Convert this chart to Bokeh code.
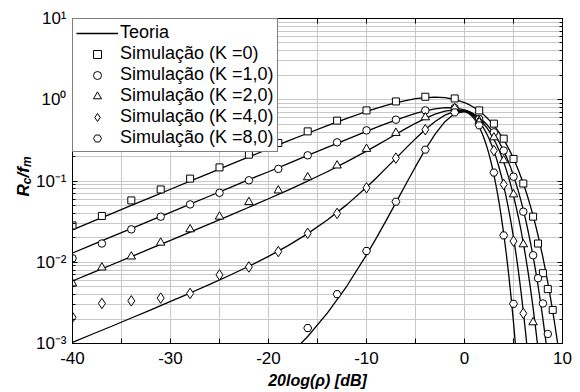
import numpy as np
from bokeh.plotting import figure
from bokeh.layouts import row
from bokeh.models import (LinearAxis, LogAxis, Legend, LegendItem,
                          FixedTicker, Range1d, CustomJSTickFormatter)
from bokeh.core.properties import value
from bokeh.embed import file_html
from bokeh.resources import INLINE

nan = float("nan")

# ---------------- data ----------------
# theory curves, sampled in dB (values read from the chart; nan = below the plotted range)
x_theory = [-40, -38, -36, -34, -32, -30, -28, -26, -24, -22, -20, -18, -16, -14, -12,
            -10, -9, -8, -7, -6, -5, -4, -3, -2, -1,
            0, 0.25, 0.5, 0.75, 1, 1.25, 1.5, 1.75, 2, 2.25, 2.5, 2.75, 3, 3.25, 3.5, 3.75,
            4, 4.25, 4.5, 4.75, 5, 5.25, 5.5, 5.75, 6, 6.25, 6.5, 6.75, 7, 7.25, 7.5, 7.75,
            8, 8.25, 8.5, 8.75, 9, 9.25, 9.5, 9.75, 10]

theory_k0 = [0.0251, 0.0316, 0.0397, 0.05, 0.0629, 0.0792, 0.0996, 0.125, 0.158, 0.198, 0.248,
             0.311, 0.387, 0.481, 0.591,
             0.717, 0.784, 0.852, 0.917, 0.977, 1.03, 1.06, 1.08, 1.06, 1.01,
             0.922, 0.894, 0.865, 0.833, 0.799, 0.763, 0.725, 0.687, 0.647, 0.606, 0.565, 0.523,
             0.481, 0.44, 0.4, 0.36, 0.322, 0.286, 0.251, 0.219, 0.189, 0.161, 0.136, 0.113,
             0.0934, 0.0759, 0.0608, 0.0481, 0.0374, 0.0286, 0.0215, 0.0158, 0.0115, 0.00811,
             0.00562, 0.0038, 0.00251, 0.00161, 0.00101, 0.000612, 0.00036]
theory_k1 = [0.013, 0.0164, 0.0207, 0.026, 0.0328, 0.0412, 0.0519, 0.0654, 0.0823, 0.104, 0.13,
             0.164, 0.207, 0.26, 0.326,
             0.409, 0.456, 0.508, 0.563, 0.621, 0.678, 0.731, 0.774, 0.798, 0.793,
             0.75, 0.733, 0.713, 0.689, 0.663, 0.635, 0.604, 0.571, 0.536, 0.499, 0.461, 0.422,
             0.383, 0.345, 0.306, 0.269, 0.234, 0.201, 0.17, 0.142, 0.116, 0.0938, 0.0744, 0.0578,
             0.0441, 0.0329, 0.0239, 0.017, 0.0118, 0.00794, 0.00519, 0.00329, 0.00201, 0.00119,
             0.000676, 0.000369, 0.000193, nan, nan, nan, nan]
theory_k2 = [0.00588, 0.0074, 0.00932, 0.0117, 0.0148, 0.0186, 0.0235, 0.0297, 0.0375, 0.0475,
             0.0605, 0.0774, 0.0999, 0.13, 0.173,
             0.233, 0.273, 0.32, 0.376, 0.441, 0.513, 0.59, 0.664, 0.724, 0.751,
             0.728, 0.713, 0.693, 0.67, 0.643, 0.611, 0.577, 0.539, 0.499, 0.457, 0.414, 0.37,
             0.327, 0.284, 0.244, 0.206, 0.171, 0.139, 0.111, 0.0865, 0.0661, 0.0492, 0.0358,
             0.0253, 0.0173, 0.0115, 0.00741, 0.0046, 0.00274, 0.00157, 0.000863, 0.000452,
             0.000226, 0.000107, nan, nan, nan, nan, nan, nan, nan]
theory_k4 = [0.00103, 0.0013, 0.00163, 0.00206, 0.0026, 0.0033, 0.00418, 0.00534, 0.00687,
             0.00893, 0.0118, 0.016, 0.0225, 0.0331, 0.0512,
             0.0837, 0.109, 0.144, 0.19, 0.252, 0.332, 0.43, 0.54, 0.646, 0.718,
             0.718, 0.703, 0.681, 0.653, 0.619, 0.58, 0.536, 0.487, 0.437, 0.385, 0.333, 0.282,
             0.235, 0.191, 0.151, 0.117, 0.0876, 0.0638, 0.0451, 0.0308, 0.0202, 0.0128, 0.00776,
             0.0045, 0.00249, 0.00131, 0.000649, 0.000304, 0.000134, nan, nan, nan, nan, nan,
             nan, nan, nan, nan, nan, nan, nan]
theory_k8 = [nan, nan, nan, nan, nan, nan, 0.000111, 0.000147, 0.000201, 0.000286, 0.000429,
             0.000691, 0.00122, 0.00236, 0.0051,
             0.0123, 0.0198, 0.0325, 0.0541, 0.0905, 0.15, 0.244, 0.377, 0.537, 0.677,
             0.713, 0.696, 0.668, 0.63, 0.582, 0.526, 0.464, 0.399, 0.334, 0.272, 0.214, 0.163,
             0.119, 0.0842, 0.0569, 0.0367, 0.0225, 0.0131, 0.00724, 0.00375, 0.00182, 0.000827,
             0.000348, 0.000135, nan, nan, nan, nan, nan, nan, nan, nan, nan, nan, nan, nan,
             nan, nan, nan, nan, nan]

# simulation points
sim_x_k0 = [-40, -37, -34, -31, -28, -25, -22, -19, -16, -13, -10, -7, -4, -1,
            1.5, 3, 4, 5, 6, 7, 7.5, 8, 8.5, 9]
sim_y_k0 = [0.0284, 0.0371, 0.0577, 0.0787, 0.107, 0.147, 0.211, 0.294, 0.408, 0.553, 0.739,
            0.953, 1.089, 1.037, 0.739, 0.508, 0.332, 0.187, 0.0931, 0.0364, 0.0170, 0.00733,
            0.00467, 0.00259]
sim_x_k1 = [-40, -37, -34, -31, -28, -25, -22, -19, -16, -13, -10, -7, -4, -1,
            1.5, 3, 4, 5, 6, 7, 7.5, 8, 8.5]
sim_y_k1 = [0.0112, 0.0170, 0.0254, 0.0364, 0.0515, 0.0716, 0.102, 0.141, 0.207, 0.299, 0.420,
            0.568, 0.739, 0.791, 0.580, 0.397, 0.237, 0.113, 0.0419, 0.0122, 0.00637, 0.00311,
            0.00131]
sim_x_k2 = [-40, -37, -34, -31, -28, -25, -22, -19, -16, -13, -10, -7, -4, -1,
            1.5, 3, 4, 5, 6, 7]
sim_y_k2 = [0.00548, 0.00861, 0.01175, 0.0174, 0.0254, 0.0364, 0.0549, 0.0764, 0.111, 0.155,
            0.248, 0.390, 0.607, 0.78, 0.55, 0.344, 0.180, 0.0683, 0.0166, 0.00182]
sim_x_k4 = [-40, -37, -34, -31, -28, -25, -22, -19, -16, -13, -10, -7, -4, -1,
            1.5, 3, 4, 5, 6]
sim_y_k4 = [0.00210, 0.00311, 0.00335, 0.00362, 0.00413, 0.00699, 0.00875, 0.01353, 0.0227,
            0.0399, 0.0824, 0.191, 0.428, 0.78, 0.52, 0.237, 0.0906, 0.0182, 0.00235]
sim_x_k8 = [-16, -13, -10, -7, -4, -1, 1.5, 3, 4, 5]
sim_y_k8 = [0.00155, 0.00405, 0.01377, 0.0556, 0.243, 0.699, 0.484, 0.127, 0.0214, 0.00308]

legend_labels = ["Teoria", "Simulação (K =0)", "Simulação (K =1,0)", "Simulação (K =2,0)",
                 "Simulação (K =4,0)", "Simulação (K =8,0)"]
x_ticks = [-40, -30, -20, -10, 0, 10]
x_tick_labels = ["-40", "-30", "-20", "-10", "0", "10"]
x_minor = [-35, -25, -15, -5, 5]
y_exponents = [1, 0, -1, -2, -3]
y_tick_labels = ["10¹", "10⁰", "10⁻¹", "10⁻²", "10⁻³"]
x_title = "20log(ρ) [dB]"

FONT = "Liberation Sans"
GRID = "#c8c8c8"
TOP, BOTTOM = 18, 49          # frame margins in px
STRIP = 32                    # width of the strip holding the y title

# ---------------- main figure ----------------
p = figure(width=580 - STRIP, height=392, x_range=Range1d(-40, 10), y_range=Range1d(1e-3, 10),
           y_axis_type="log", output_backend="svg", toolbar_location=None,
           min_border_left=70 - STRIP, min_border_right=18,
           min_border_top=TOP, min_border_bottom=BOTTOM)
p.background_fill_color = "white"
p.border_fill_color = "white"
p.outline_line_color = "black"
p.outline_line_width = 1

y_major = [10.0 ** e for e in y_exponents]
y_minor = [m * 10.0 ** e for e in [-3, -2, -1, 0] for m in range(2, 10)]
xt = FixedTicker(ticks=x_ticks, minor_ticks=x_minor)
yt = FixedTicker(ticks=y_major, minor_ticks=y_minor)
blank = CustomJSTickFormatter(code="return ''")

def style_axis(ax, show_labels):
    ax.axis_line_color = "black"
    ax.major_tick_in = 5
    ax.major_tick_out = 0
    ax.minor_tick_in = 3
    ax.minor_tick_out = 0
    ax.major_tick_line_color = "black"
    ax.minor_tick_line_color = "black"
    if not show_labels:
        ax.formatter = blank
        ax.major_label_standoff = 0

xa = p.xaxis[0]
xa.ticker = xt
style_axis(xa, True)
xa.minor_tick_in = 5
xa.major_label_overrides = dict(zip(x_ticks, x_tick_labels))
xa.major_label_text_font = FONT
xa.major_label_text_font_size = "17px"
xa.major_label_text_color = "black"
xa.major_label_standoff = 8
xa.axis_label = x_title
xa.axis_label_text_font = FONT
xa.axis_label_text_font_size = "16px"
xa.axis_label_text_font_style = "bold italic"
xa.axis_label_text_color = "black"
xa.axis_label_standoff = 5

ya = p.yaxis[0]
ya.ticker = yt
style_axis(ya, True)
ya.major_label_overrides = dict(zip(y_major, y_tick_labels))
ya.major_label_text_font = FONT
ya.major_label_text_font_size = "17px"
ya.major_label_text_color = "black"
ya.major_label_standoff = 6

top = LinearAxis(ticker=xt)
style_axis(top, False)
top.minor_tick_in = 5
p.add_layout(top, "above")
right = LogAxis(ticker=yt)
style_axis(right, False)
p.add_layout(right, "right")

p.xgrid.grid_line_color = GRID
p.xgrid.minor_grid_line_color = GRID
p.ygrid.grid_line_color = GRID
p.ygrid.minor_grid_line_color = GRID

# theory lines
line_rs = []
for ys in [theory_k0, theory_k1, theory_k2, theory_k4, theory_k8]:
    line_rs.append(p.line(x_theory, ys, line_color="black", line_width=1.3))

# simulation markers
mk = dict(line_color="black", fill_color="white", line_width=1)
r0 = p.scatter(sim_x_k0, sim_y_k0, marker="square", size=7, **mk)
r1 = p.scatter(sim_x_k1, sim_y_k1, marker="circle", size=7.5, **mk)
r2 = p.scatter(sim_x_k2, sim_y_k2, marker="triangle", size=8.5, **mk)
r4 = p.scatter(sim_x_k4, sim_y_k4, marker="diamond", size=10.5, **mk)
r8 = p.scatter(sim_x_k8, sim_y_k8, marker="hex", size=8, **mk)

legend = Legend(items=[LegendItem(label=legend_labels[0], renderers=[line_rs[0]]),
                       LegendItem(label=legend_labels[1], renderers=[r0]),
                       LegendItem(label=legend_labels[2], renderers=[r1]),
                       LegendItem(label=legend_labels[3], renderers=[r2]),
                       LegendItem(label=legend_labels[4], renderers=[r4]),
                       LegendItem(label=legend_labels[5], renderers=[r8])],
                location="top_left")
legend.margin = 0
legend.padding = 3
legend.spacing = 0
legend.label_height = 21
legend.glyph_height = 20
legend.glyph_width = 42
legend.label_standoff = 2
legend.border_line_color = "black"
legend.border_line_width = 1
legend.background_fill_color = "white"
legend.background_fill_alpha = 1
legend.label_text_font = FONT
legend.label_text_font_size = "18px"
legend.label_text_color = "black"
p.add_layout(legend)

# ---------------- left strip: y title R_c / f_m (page-pixel coordinates) ----------------
pl = figure(width=STRIP, height=392, x_range=Range1d(0, STRIP),
            y_range=Range1d(392 - BOTTOM, TOP),
            output_backend="svg", toolbar_location=None,
            x_axis_location=None, y_axis_location=None,
            min_border_left=0, min_border_right=0,
            min_border_top=TOP, min_border_bottom=BOTTOM)
pl.outline_line_color = None
pl.xgrid.visible = False
pl.ygrid.visible = False
pl.background_fill_color = "white"
pl.border_fill_color = "white"

parts = [("R", 23, 196, "17px"), ("c", 26, 183.7, "12px"),
         ("/f", 23, 177, "17px"), ("m", 26, 166.6, "12px")]
for txt, px, py, fs in parts:
    pl.text(x=[px], y=[py], text=[txt], angle=np.pi / 2, text_align="left",
            text_baseline="alphabetic", text_font=value(FONT), text_font_size=value(fs),
            text_font_style="bold italic", text_color="black")

layout = row(pl, p, spacing=0)
open("out.html", "w").write(file_html(layout, INLINE))
